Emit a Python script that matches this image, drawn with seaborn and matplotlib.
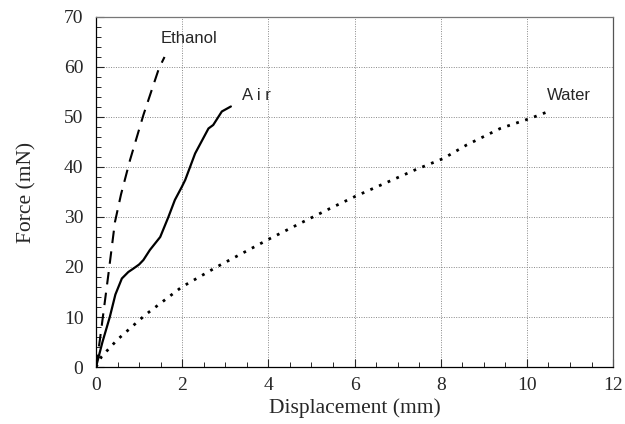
import matplotlib
matplotlib.use("Agg")
import matplotlib.pyplot as plt
import seaborn as sns
import numpy as np
from matplotlib.ticker import MultipleLocator

# values
ethanol_x = [0, 0.09, 0.29, 0.44, 0.58, 0.79, 1.10, 1.46, 1.59]
ethanol_y = [0, 5.4, 18.7, 29.0, 34.5, 41.4, 50.4, 59.7, 62.0]

air_x = [0, 0.15, 0.32, 0.45, 0.60, 0.75, 0.87, 1.00, 1.10, 1.25, 1.49, 1.68, 1.83, 1.99, 2.07,
         2.30, 2.61, 2.72, 2.92, 3.13]
air_y = [0, 5.0, 10.0, 14.5, 17.7, 19.0, 19.7, 20.5, 21.4, 23.4, 26.0, 30.0, 33.4, 36.0, 37.4,
         42.7, 47.7, 48.4, 51.1, 52.1]

water_x = [0, 0.13, 0.5, 1.14, 1.99, 2.84, 4.04, 4.73, 5.43, 6.01, 7.40, 8.06, 8.6, 9.38, 10.07, 10.5]
water_y = [0, 2.1, 5.5, 10.4, 16.0, 20.2, 25.7, 28.7, 31.7, 34.1, 39.4, 41.7, 44.4, 47.7, 49.7, 51.1]

labels = ["Ethanol", "A i r", "Water"]
label_x = [2.15, 3.72, 10.98]
label_y = [65.6, 54.2, 54.2]

sns.set_style("ticks")
plt.rcParams['font.family'] = ['Liberation Serif', 'DejaVu Serif']

fig = plt.figure(figsize=(6.25, 4.24), dpi=100)
ax = fig.add_axes([0.1536, 0.1344, 0.8274, 0.8256])

sns.lineplot(x=ethanol_x, y=ethanol_y, ax=ax, sort=False, color='black', lw=1.5,
             dashes=False, linestyle=(0, (6, 4)))
sns.lineplot(x=air_x, y=air_y, ax=ax, sort=False, color='black', lw=1.6)
sns.lineplot(x=water_x, y=water_y, ax=ax, sort=False, color='black', lw=2.0,
             linestyle=(0, (1, 2.4)))

for t, tx, ty in zip(labels, label_x, label_y):
    ax.text(tx, ty, t, ha='center', va='center', fontsize=12,
            family=['Liberation Sans', 'DejaVu Sans'])

ax.set_xlim(0, 12)
ax.set_ylim(0, 70)
ax.xaxis.set_major_locator(MultipleLocator(2))
ax.xaxis.set_minor_locator(MultipleLocator(0.5))
ax.yaxis.set_major_locator(MultipleLocator(10))
ax.yaxis.set_minor_locator(MultipleLocator(2))
ax.tick_params(which='both', direction='in', top=False, right=False, labelsize=14)
ax.tick_params(which='major', length=6, width=0.8)
ax.tick_params(axis='y', which='major', pad=9)
ax.tick_params(axis='x', which='major', pad=7)
ax.tick_params(which='minor', length=3.5, width=0.7)
ax.grid(True, which='major', color='#888888', linestyle=(0, (1, 1.5)), linewidth=0.7)
for s in ax.spines.values():
    s.set_linewidth(0.9)
    s.set_color('black')
ax.spines['top'].set_color('#777777')
ax.spines['right'].set_color('#555555')

ax.set_xlabel('Displacement (mm)', fontsize=15.5, labelpad=3)
ax.set_ylabel('Force (mN)', fontsize=15.5, labelpad=20)

fig.savefig('out.png', dpi=100)
